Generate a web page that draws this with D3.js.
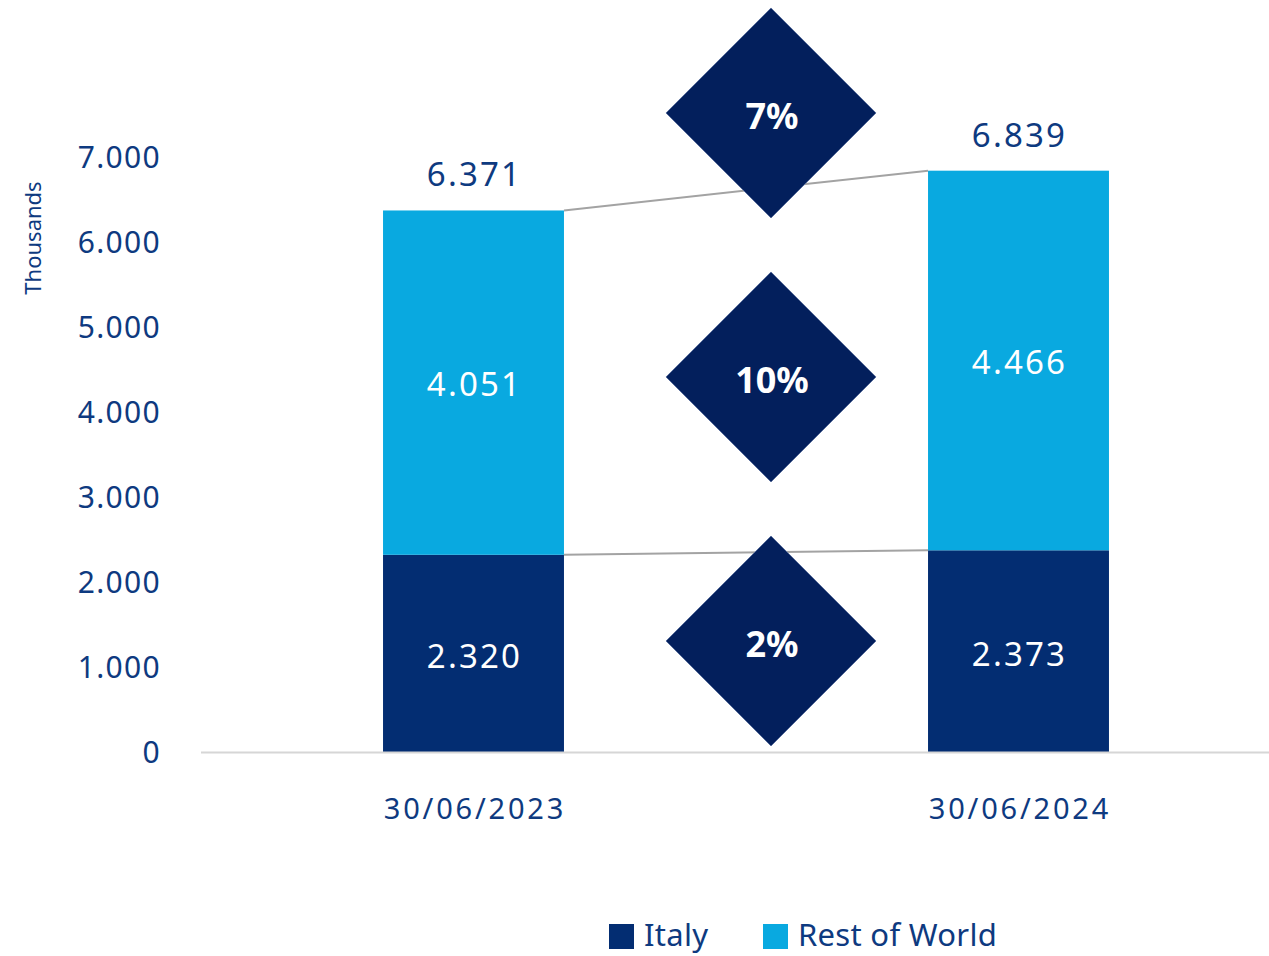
<!DOCTYPE html>
<html>
<head>
<meta charset="utf-8">
<title>Italy vs Rest of World</title>
<style>
  body { margin: 0; background: white; }
  text { font-family: "Noto Sans", "Open Sans", sans-serif; }
</style>
</head>
<body>
<div id="chart"></div>
<script src="https://d3js.org/d3.v7.min.js"></script>
<script>
// data
var dates = ["30/06/2023", "30/06/2024"];
var italy = [2320, 2373];
var restOfWorld = [4051, 4466];
var seriesNames = ["Italy", "Rest of World"];
var tickValues = [0, 1000, 2000, 3000, 4000, 5000, 6000, 7000];
var changeLabels = ["7%", "10%", "2%"];
var changeAt = [7518, 4412, 1306]; // y-value where each diamond sits

var W = 1269, H = 956;
var navy = "#032d72", cyan = "#09a9e0", diamondFill = "#031f5c", textCol = "#0e3a80";

var fmt = function (v) { return d3.format(",")(v).replace(/,/g, "."); };

var svg = d3.select("#chart").append("svg")
    .attr("width", W).attr("height", H);

var x = d3.scaleBand().domain(dates).range([201, 1291]).paddingInner(0.668).paddingOuter(0.334);
var y = d3.scaleLinear().domain([0, 7000]).range([752, 157]);

var rows = dates.map(function (d, i) {
    return { date: d, italy: italy[i], row: restOfWorld[i], total: italy[i] + restOfWorld[i] };
});

// y axis labels (no line)
var yAxis = svg.append("g")
    .attr("transform", "translate(161,0)")
    .call(d3.axisLeft(y).tickValues(tickValues).tickSize(0).tickPadding(0).tickFormat(fmt));
yAxis.select(".domain").remove();
yAxis.selectAll("text")
    .attr("fill", textCol)
    .style("font-size", "30px")
    .style("letter-spacing", "1.3px")
    .attr("dy", "0.36em");

svg.append("text")
    .attr("transform", "translate(41,238) rotate(-90)")
    .attr("text-anchor", "middle")
    .attr("fill", textCol)
    .style("font-size", "22px")
    .text("Thousands");

// bars
var bw = x.bandwidth();
var g = svg.append("g");
g.selectAll("rect.it").data(rows).join("rect")
    .attr("class", "it")
    .attr("x", function (d) { return x(d.date); })
    .attr("y", function (d) { return y(d.italy); })
    .attr("width", bw)
    .attr("height", function (d) { return y(0) - y(d.italy); })
    .attr("fill", navy);
g.selectAll("rect.rw").data(rows).join("rect")
    .attr("class", "rw")
    .attr("x", function (d) { return x(d.date); })
    .attr("y", function (d) { return y(d.total); })
    .attr("width", bw)
    .attr("height", function (d) { return y(d.italy) - y(d.total); })
    .attr("fill", cyan);

// x axis line
svg.append("line")
    .attr("x1", 201).attr("x2", W)
    .attr("y1", y(0) + 0.5).attr("y2", y(0) + 0.5)
    .attr("stroke", "#d6d6d6").attr("stroke-width", 2);

var xAxis = svg.append("g")
    .attr("transform", "translate(0," + y(0) + ")")
    .call(d3.axisBottom(x).tickSize(0).tickPadding(0));
xAxis.select(".domain").remove();
xAxis.selectAll("text")
    .attr("fill", textCol)
    .attr("dy", "0")
    .attr("y", 67)
    .attr("dx", "1.4")
    .style("font-size", "29px")
    .style("letter-spacing", "2.8px");

// connector lines
var a = rows[0], b = rows[1];
["total", "italy"].forEach(function (k) {
    svg.append("line")
        .attr("x1", x(a.date) + bw).attr("y1", y(a[k]))
        .attr("x2", x(b.date)).attr("y2", y(b[k]))
        .attr("stroke", "#a3a3a3").attr("stroke-width", 2);
});

// value labels
var lbl = svg.append("g").style("font-size", "33px").style("letter-spacing", "2.2px")
    .attr("text-anchor", "middle");
rows.forEach(function (d) {
    var cx = x(d.date) + bw / 2 + 1;
    lbl.append("text").attr("x", cx).attr("y", y(d.italy / 2)).attr("dy", "0.44em")
        .attr("fill", "white").text(fmt(d.italy));
    lbl.append("text").attr("x", cx).attr("y", y(d.italy + d.row / 2)).attr("dy", "0.42em")
        .attr("fill", "white").text(fmt(d.row));
    lbl.append("text").attr("x", cx).attr("y", y(d.total) - 38).attr("dy", "0.42em")
        .attr("fill", textCol).text(fmt(d.total));
});

// change diamonds
var mid = (x(dates[0]) + bw + x(dates[1])) / 2 + 25;
var r = 105;
changeLabels.forEach(function (t, i) {
    var cy = y(changeAt[i]);
    svg.append("path")
        .attr("d", "M" + mid + "," + (cy - r) + "L" + (mid + r) + "," + cy + "L" + mid + "," + (cy + r) + "L" + (mid - r) + "," + cy + "Z")
        .attr("fill", diamondFill)
        .attr("stroke", "#5a6f9c").attr("stroke-width", 1);
    svg.append("text")
        .attr("x", mid + 1).attr("y", cy).attr("dy", "0.44em")
        .attr("text-anchor", "middle")
        .attr("fill", "white")
        .style("font-size", "36px").style("font-weight", "bold")
        .text(t);
});

// legend
var legX = [609, 763], colors = [navy, cyan];
seriesNames.forEach(function (s, i) {
    svg.append("rect").attr("x", legX[i]).attr("y", 924).attr("width", 25).attr("height", 25)
        .attr("fill", colors[i]);
    svg.append("text").attr("x", legX[i] + 35).attr("y", 935).attr("dy", "0.36em")
        .attr("fill", textCol).style("font-size", "31px").style("letter-spacing", "0.3px").text(s);
});
</script>
</body>
</html>
